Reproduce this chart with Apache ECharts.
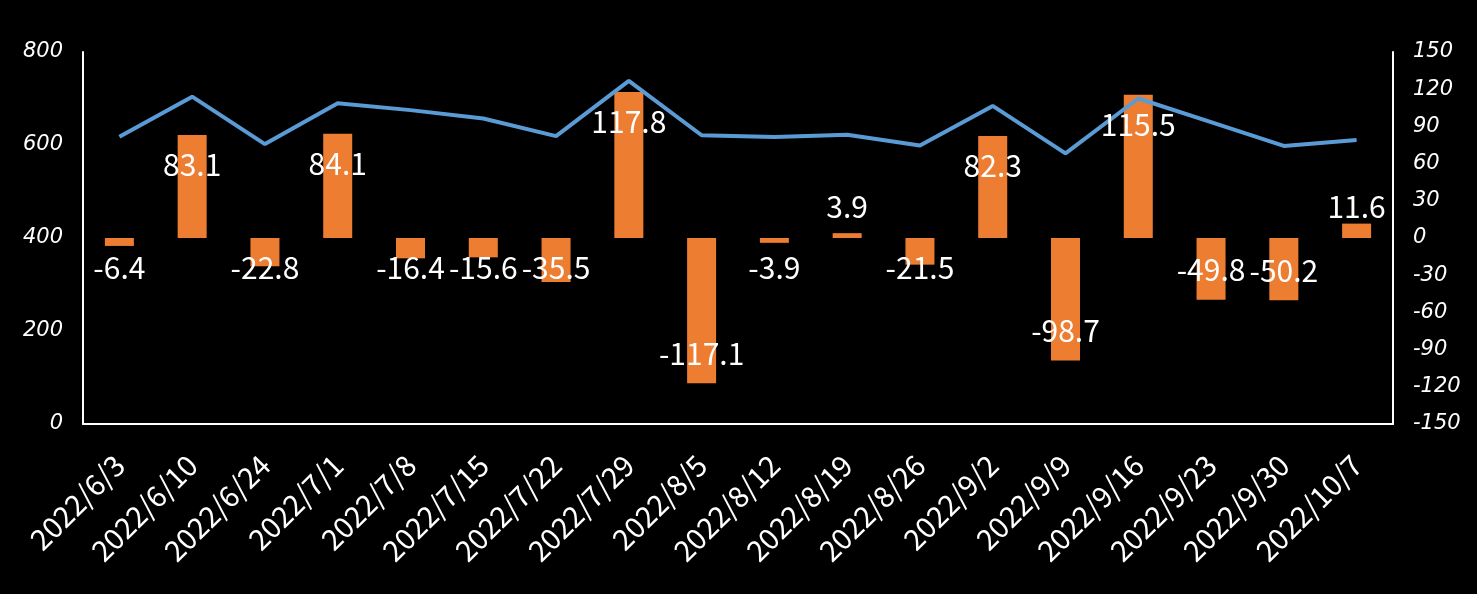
<!DOCTYPE html>
<html>
<head>
<meta charset="utf-8">
<script src="https://cdn.jsdelivr.net/npm/echarts@6/dist/echarts.min.js"></script>
<style>
html,body{margin:0;padding:0;background:#000;}
#c{width:1477px;height:594px;}
</style>
</head>
<body>
<div id="c"></div>
<script>
var categories = ['2022/6/3','2022/6/10','2022/6/24','2022/7/1','2022/7/8','2022/7/15','2022/7/22','2022/7/29','2022/8/5','2022/8/12','2022/8/19','2022/8/26','2022/9/2','2022/9/9','2022/9/16','2022/9/23','2022/9/30','2022/10/7'];
var lineValues = [618, 704, 602, 690, 675, 657, 619, 738, 621, 617, 622, 599, 684, 582, 700, 649, 598, 611];
var barValues = [-6.4, 83.1, -22.8, 84.1, -16.4, -15.6, -35.5, 117.8, -117.1, -3.9, 3.9, -21.5, 82.3, -98.7, 115.5, -49.8, -50.2, 11.6];
var leftTicks = [0, 800, 200];
var rightTicks = [-150, 150, 30];

var chart = echarts.init(document.getElementById('c'), null, {renderer: 'canvas'});
var labelFont = "'Noto Sans CJK SC', 'Noto Sans', sans-serif";
var axisFont = "'DejaVu Sans', sans-serif";

chart.setOption({
  backgroundColor: '#000000',
  animation: false,
  grid: {left: 83, right: 84, top: 52, bottom: 170, containLabel: false},
  xAxis: {
    type: 'category',
    data: categories,
    axisLine: {show: true, lineStyle: {color: '#ffffff', width: 2}},
    axisTick: {show: false},
    axisLabel: {color: '#ffffff', rotate: 45, fontSize: 29, fontFamily: labelFont, margin: 36, interval: 0}
  },
  yAxis: [{
    type: 'value', min: leftTicks[0], max: leftTicks[1], interval: leftTicks[2],
    position: 'left',
    axisLine: {show: true, lineStyle: {color: '#ffffff', width: 2}},
    axisTick: {show: false},
    splitLine: {show: false},
    axisLabel: {color: '#ffffff', fontSize: 21, fontStyle: 'italic', fontFamily: axisFont, margin: 20}
  }, {
    type: 'value', min: rightTicks[0], max: rightTicks[1], interval: rightTicks[2],
    position: 'right',
    axisLine: {show: true, lineStyle: {color: '#ffffff', width: 2}},
    axisTick: {show: false},
    splitLine: {show: false},
    axisLabel: {color: '#ffffff', fontSize: 21, fontStyle: 'italic', fontFamily: axisFont, margin: 20}
  }],
  series: [{
    name: 'bar', type: 'bar', yAxisIndex: 1, data: barValues,
    barWidth: 29, z: 2,
    itemStyle: {color: '#ED7D31'}
  }, {
    name: 'line', type: 'line', yAxisIndex: 0, data: lineValues,
    showSymbol: false, symbol: 'none', z: 3,
    lineStyle: {color: '#5B9BD5', width: 4}
  }, {
    name: 'labels', type: 'bar', yAxisIndex: 1, data: barValues,
    barWidth: 29, barGap: '-100%', z: 4,
    itemStyle: {color: 'rgba(0,0,0,0)'},
    label: {show: true, color: '#ffffff', fontSize: 30, fontFamily: labelFont, position: 'inside'},
    labelLayout: function (p) {
      var r = p.rect;
      var top = Math.min(r.y, r.y + r.height);
      var bottom = Math.max(r.y, r.y + r.height);
      var cy;
      if (barValues[p.dataIndex] >= 0) {
        cy = Math.min(top + 30, bottom - 31);
      } else {
        cy = Math.max(bottom - 30, top + 30);
      }
      return {x: r.x + r.width / 2, y: cy, align: 'center', verticalAlign: 'middle'};
    }
  }]
});
</script>
</body>
</html>
